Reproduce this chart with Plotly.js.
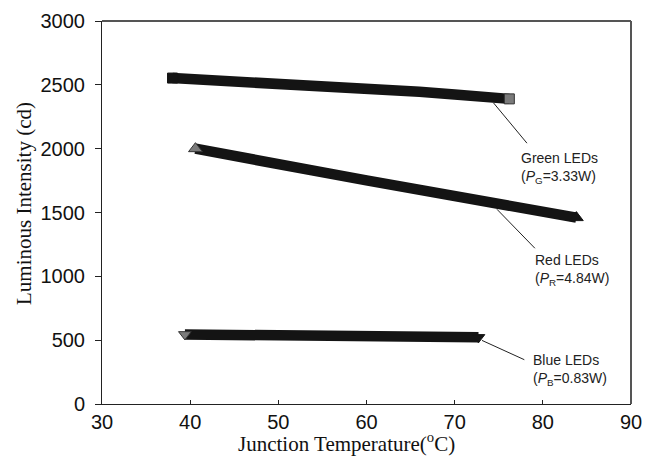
<!DOCTYPE html>
<html>
<head>
<meta charset="utf-8">
<script src="https://cdn.plot.ly/plotly-3.0.1.min.js"></script>
<style>html,body{margin:0;padding:0;background:#fff;}#chart{width:660px;height:466px;}</style>
</head>
<body>
<div id="chart"></div>
<script>
// Data
const tempGreen = [38, 42, 46, 50, 54, 58, 62, 66, 70, 74, 76.2];
const lumGreen  = [2553, 2540, 2527, 2513, 2498, 2482, 2464, 2445, 2425, 2404, 2390];
const tempRed   = [40.6, 44, 48, 52, 56, 60, 64, 68, 72, 76, 80, 83.8];
const lumRed    = [2000, 1952, 1903, 1853, 1802, 1752, 1703, 1655, 1607, 1558, 1508, 1460];
const tempBlue  = [39.4, 43, 47, 51, 55, 59, 63, 67, 71, 72.7];
const lumBlue   = [545, 543, 541, 539, 537, 535, 532, 529, 525, 522];
const xTicks = [30, 40, 50, 60, 70, 80, 90];
const yTicks = [0, 500, 1000, 1500, 2000, 2500, 3000];

const dark = '#141414';
const grey = '#7a7a7a';

function bandTrace(x, y, symbol, size, greyIndex) {
  const n = x.length;
  const colors = x.map((_, i) => i === greyIndex ? grey : dark);
  const lineColors = x.map((_, i) => i === greyIndex ? '#333' : dark);
  const sizes = x.map((_, i) => (i === 0 || i === n - 1) ? size : 0);
  return {
    x: x, y: y, type: 'scatter', mode: 'lines+markers',
    line: {color: dark, width: 10.5},
    marker: {symbol: symbol, size: sizes, color: colors, opacity: 1, line: {color: lineColors, width: 1}},
    showlegend: false, hoverinfo: 'skip'
  };
}

const traces = [
  bandTrace(tempGreen, lumGreen, 'square', 10, tempGreen.length - 1),
  bandTrace(tempRed, lumRed, 'triangle-up', 12, 0),
  bandTrace(tempBlue, lumBlue, 'triangle-down', 11, 0)
];

const tickFont = {family: 'Liberation Sans, Arial, sans-serif', size: 20, color: '#111'};
const noteFont = {family: 'Liberation Sans, Arial, sans-serif', size: 14, color: '#222'};
const titleFont = {family: 'Liberation Serif, Times New Roman, serif', size: 21, color: '#111'};

const layout = {
  width: 660, height: 466,
  margin: {l: 102, r: 29, t: 21, b: 62},
  paper_bgcolor: '#fff', plot_bgcolor: '#fff',
  xaxis: {
    range: [30, 90], tickvals: xTicks, ticktext: xTicks.map(String),
    ticks: 'inside', ticklen: 4, tickcolor: '#222', tickwidth: 1,
    showline: true, linecolor: '#222', linewidth: 1,
    showgrid: false, zeroline: false, tickfont: tickFont
  },
  yaxis: {
    range: [0, 3000], tickvals: yTicks, ticktext: yTicks.map(String),
    ticks: 'outside', ticklen: 6, tickcolor: '#222', tickwidth: 1,
    showline: true, linecolor: '#222', linewidth: 1, ticklabelstandoff: 6,
    showgrid: false, zeroline: false, tickfont: tickFont
  },
  shapes: [
    {type: 'line', xref: 'paper', yref: 'paper', x0: 0, x1: 1, y0: 1, y1: 1, line: {color: '#555', width: 2}},
    {type: 'line', xref: 'paper', yref: 'paper', x0: 1, x1: 1, y0: 0, y1: 1, line: {color: '#555', width: 2}},
    {type: 'line', xref: 'x', yref: 'y', x0: 74.4, y0: 2359, x1: 78.2, y1: 2043, line: {color: '#222', width: 1}},
    {type: 'line', xref: 'x', yref: 'y', x0: 74.8, y0: 1525, x1: 79.1, y1: 1220, line: {color: '#222', width: 1}},
    {type: 'line', xref: 'x', yref: 'y', x0: 73.1, y0: 498, x1: 77.9, y1: 347, line: {color: '#222', width: 1}}
  ],
  annotations: [
    {xref: 'x', yref: 'y', x: 77.35, y: 1850, xanchor: 'left', yanchor: 'middle', align: 'left', showarrow: false,
     text: 'Green LEDs<br>(<i>P</i><sub>G</sub>=3.33W)', font: noteFont},
    {xref: 'x', yref: 'y', x: 78.9, y: 1050, xanchor: 'left', yanchor: 'middle', align: 'left', showarrow: false,
     text: 'Red LEDs<br>(<i>P</i><sub>R</sub>=4.84W)', font: noteFont},
    {xref: 'x', yref: 'y', x: 78.65, y: 265, xanchor: 'left', yanchor: 'middle', align: 'left', showarrow: false,
     text: 'Blue LEDs<br>(<i>P</i><sub>B</sub>=0.83W)', font: noteFont},
    {xref: 'paper', yref: 'paper', x: (346 - 102) / 529, y: -(442 - 404) / 383, xanchor: 'center', yanchor: 'middle',
     showarrow: false, text: 'Junction Temperature(<sup>o</sup>C)', font: titleFont},
    {xref: 'paper', yref: 'paper', x: -(102 - 24) / 529, y: (404 - 204) / 383, xanchor: 'center', yanchor: 'middle',
     showarrow: false, textangle: -90, text: 'Luminous Intensity (cd)', font: titleFont}
  ]
};

Plotly.newPlot('chart', traces, layout, {displayModeBar: false, staticPlot: true});
</script>
</body>
</html>
